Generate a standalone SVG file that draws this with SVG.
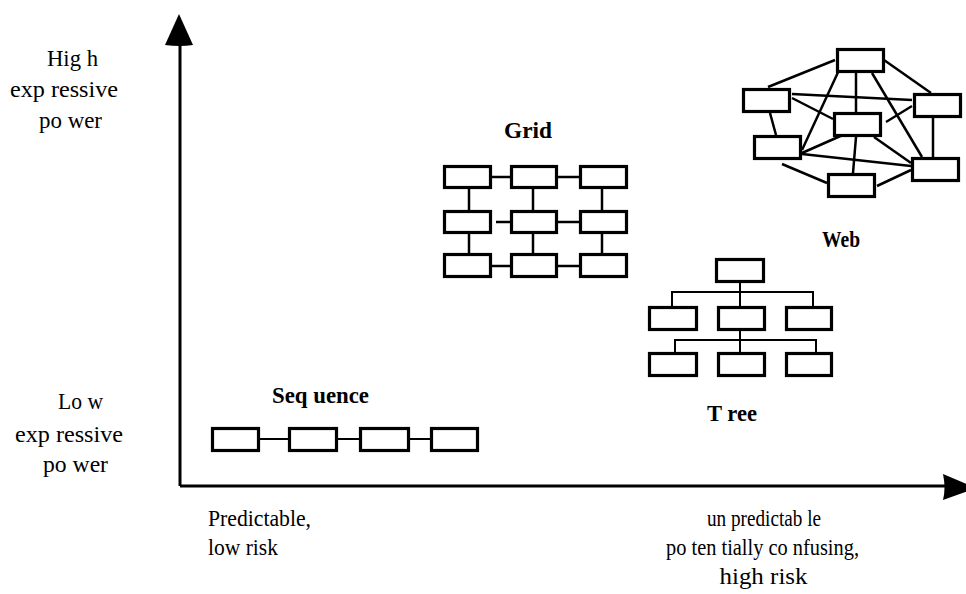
<svg xmlns="http://www.w3.org/2000/svg" width="966" height="594" viewBox="0 0 966 594">
<style>
.box{fill:#fff;stroke:#000;stroke-width:3.2}
.ln{stroke:#000;stroke-width:2.5;fill:none}
.tl{stroke:#000;stroke-width:2;fill:none}
.ax{stroke:#000;stroke-width:3;fill:none}
.t{font-family:"Liberation Serif","Times New Roman",serif;font-size:24px;fill:#000}
.b{font-family:"Liberation Serif","Times New Roman",serif;font-size:24px;font-weight:bold;fill:#000}
.m{text-anchor:middle}
</style>
<rect width="966" height="594" fill="#fff"/>
<g id="axes">
<line class="ax" x1="180" y1="40" x2="180" y2="486"/>
<line class="ax" x1="180" y1="486" x2="950" y2="486"/>
<path d="M179,14 L165,45 Q180,47 193,45 Z" fill="#000"/>
<path d="M976,488 L943,474 Q946,488 943,500 Z" fill="#000"/>
</g>
<g id="axis-labels">
<text class="t m" x="72.5" y="66" textLength="51" lengthAdjust="spacingAndGlyphs">Hig h</text>
<text class="t m" x="64" y="97" textLength="108" lengthAdjust="spacingAndGlyphs">exp ressive</text>
<text class="t m" x="70.5" y="128" textLength="63" lengthAdjust="spacingAndGlyphs">po wer</text>
<text class="t m" x="80.5" y="409" textLength="45" lengthAdjust="spacingAndGlyphs">Lo w</text>
<text class="t m" x="69" y="442" textLength="108" lengthAdjust="spacingAndGlyphs">exp ressive</text>
<text class="t m" x="75.5" y="472" textLength="65" lengthAdjust="spacingAndGlyphs">po wer</text>
<text class="t" x="208" y="526" textLength="103" lengthAdjust="spacingAndGlyphs">Predictable,</text>
<text class="t" x="208" y="555" textLength="70" lengthAdjust="spacingAndGlyphs">low risk</text>
<text class="t m" x="764" y="526" textLength="114" lengthAdjust="spacingAndGlyphs">un predictab le</text>
<text class="t m" x="762.5" y="555" textLength="193" lengthAdjust="spacingAndGlyphs">po ten tially co nfusing,</text>
<text class="t m" x="763.5" y="584" textLength="88" lengthAdjust="spacingAndGlyphs">high risk</text>
</g>
<g id="connectors">
<line class="tl" x1="260" y1="439" x2="288" y2="439"/>
<line class="tl" x1="338" y1="439" x2="359" y2="439"/>
<line class="tl" x1="410" y1="439" x2="430" y2="439"/>
<line class="ln" x1="492" y1="177" x2="510" y2="177"/>
<line class="ln" x1="558" y1="177" x2="579" y2="177"/>
<line class="ln" x1="496" y1="222" x2="510" y2="222"/>
<line class="ln" x1="558" y1="222" x2="579" y2="222"/>
<line class="ln" x1="492" y1="266" x2="510" y2="266"/>
<line class="ln" x1="558" y1="266" x2="579" y2="266"/>
<line class="ln" x1="469" y1="189" x2="469" y2="211"/>
<line class="ln" x1="469" y1="234" x2="469" y2="254"/>
<line class="ln" x1="533" y1="189" x2="533" y2="211"/>
<line class="ln" x1="533" y1="234" x2="533" y2="254"/>
<line class="ln" x1="602" y1="189" x2="602" y2="211"/>
<line class="ln" x1="602" y1="234" x2="602" y2="254"/>
<polyline class="tl" points="740,283 740,292"/>
<polyline class="tl" points="672,306 672,292 813,292 813,306"/>
<line class="tl" x1="740" y1="292" x2="740" y2="306"/>
<polyline class="tl" points="740,331 740,340"/>
<polyline class="tl" points="675,352 675,340 816,340 816,352"/>
<line class="tl" x1="740" y1="340" x2="740" y2="352"/>
<line class="ln" x1="835" y1="60" x2="768" y2="87"/>
<line class="ln" x1="884" y1="60" x2="931" y2="93"/>
<line class="ln" x1="792" y1="94" x2="912" y2="100"/>
<line class="ln" x1="792" y1="98" x2="833" y2="119"/>
<line class="ln" x1="770" y1="113" x2="776" y2="135"/>
<line class="ln" x1="840" y1="68" x2="802" y2="150"/>
<line class="ln" x1="856" y1="73" x2="856" y2="112"/>
<line class="ln" x1="872" y1="73" x2="922" y2="157"/>
<line class="ln" x1="912" y1="106" x2="886" y2="122"/>
<line class="ln" x1="933" y1="118" x2="933" y2="157"/>
<line class="ln" x1="802" y1="153" x2="845" y2="134"/>
<line class="ln" x1="802" y1="154" x2="911" y2="166"/>
<line class="ln" x1="856" y1="137" x2="853" y2="173"/>
<line class="ln" x1="874" y1="137" x2="911" y2="163"/>
<line class="ln" x1="782" y1="164" x2="827" y2="183"/>
<line class="ln" x1="877" y1="186" x2="911" y2="170"/>
</g>
<g id="sequence">
<text class="b m" x="320.5" y="403" textLength="97" lengthAdjust="spacingAndGlyphs">Seq uence</text>
<rect class="box" x="212.5" y="428.5" width="46" height="22"/>
<rect class="box" x="289.5" y="428.5" width="47" height="22"/>
<rect class="box" x="360.5" y="428.5" width="48" height="22"/>
<rect class="box" x="431.5" y="428.5" width="46" height="22"/>
</g>
<g id="grid">
<text class="b m" x="528" y="138" textLength="48" lengthAdjust="spacingAndGlyphs">Grid</text>
<rect class="box" x="444.5" y="166.5" width="46" height="21"/>
<rect class="box" x="511.5" y="166.5" width="45" height="21"/>
<rect class="box" x="580.5" y="166.5" width="46" height="21"/>
<rect class="box" x="444.5" y="211.5" width="46" height="21"/>
<rect class="box" x="511.5" y="211.5" width="45" height="21"/>
<rect class="box" x="580.5" y="211.5" width="46" height="21"/>
<rect class="box" x="444.5" y="254.5" width="46" height="22"/>
<rect class="box" x="511.5" y="254.5" width="45" height="22"/>
<rect class="box" x="580.5" y="254.5" width="46" height="22"/>
</g>
<g id="tree">
<text class="b m" x="732" y="421" textLength="50" lengthAdjust="spacingAndGlyphs">T ree</text>
<rect class="box" x="716.5" y="259.5" width="47" height="22"/>
<rect class="box" x="649.5" y="307.5" width="47" height="22"/>
<rect class="box" x="718.5" y="307.5" width="46" height="22"/>
<rect class="box" x="786.5" y="307.5" width="45" height="22"/>
<rect class="box" x="649.5" y="353.5" width="47" height="22"/>
<rect class="box" x="718.5" y="353.5" width="46" height="22"/>
<rect class="box" x="786.5" y="353.5" width="45" height="22"/>
</g>
<g id="web">
<text class="b" x="822" y="247" textLength="38" lengthAdjust="spacingAndGlyphs">Web</text>
<rect class="box" x="837.5" y="49.5" width="46" height="22"/>
<rect class="box" x="743.5" y="89.5" width="46" height="22"/>
<rect class="box" x="914.5" y="94.5" width="46" height="22"/>
<rect class="box" x="834.5" y="113.5" width="46" height="22"/>
<rect class="box" x="754.5" y="136.5" width="46" height="22"/>
<rect class="box" x="912.5" y="158.5" width="46" height="22"/>
<rect class="box" x="828.5" y="174.5" width="46" height="22"/>
</g>
</svg>
